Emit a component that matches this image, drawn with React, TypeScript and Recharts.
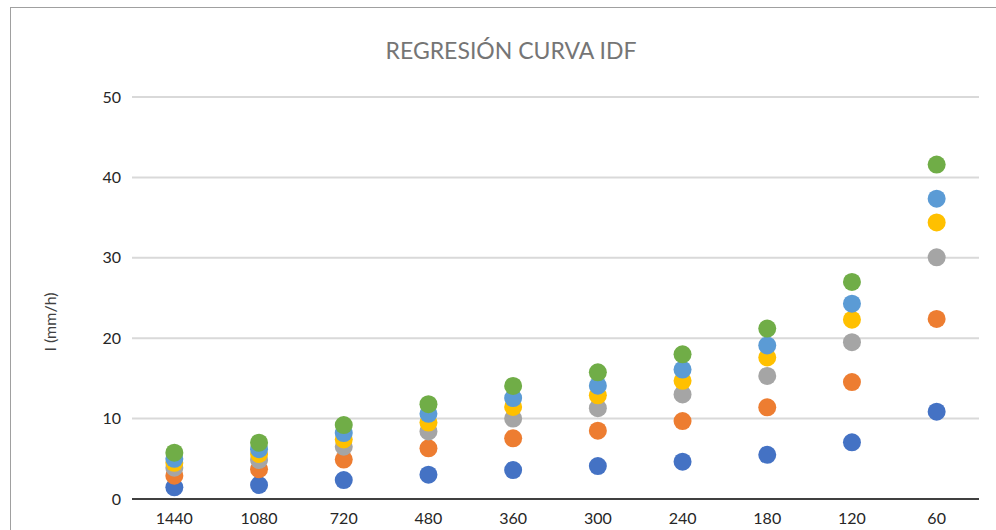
import React from 'react';
import { ComposedChart, Scatter, XAxis, YAxis, CartesianGrid } from 'recharts';

const durations = ['1440', '1080', '720', '480', '360', '300', '240', '180', '120', '60'];

const serie1 = [1.45, 1.74, 2.36, 3.02, 3.6, 4.1, 4.64, 5.5, 7.05, 10.86];
const serie2 = [2.9, 3.7, 4.9, 6.3, 7.55, 8.5, 9.7, 11.4, 14.55, 22.4];
const serie3 = [3.9, 4.85, 6.5, 8.4, 10.0, 11.3, 13.0, 15.3, 19.5, 30.06];
const serie4 = [4.5, 5.6, 7.4, 9.5, 11.45, 12.9, 14.7, 17.6, 22.3, 34.4];
const serie5 = [5.0, 6.2, 8.2, 10.6, 12.55, 14.1, 16.1, 19.1, 24.3, 37.35];
const serie6 = [5.76, 7.0, 9.2, 11.8, 14.07, 15.76, 18.0, 21.2, 27.0, 41.6];

const yTicks = [0, 10, 20, 30, 40, 50];

const SERIES = [
  { key: 's1', values: serie1, color: '#4472C4' },
  { key: 's2', values: serie2, color: '#ED7D31' },
  { key: 's3', values: serie3, color: '#A5A5A5' },
  { key: 's4', values: serie4, color: '#FFC000' },
  { key: 's5', values: serie5, color: '#5B9BD5' },
  { key: 's6', values: serie6, color: '#70AD47' },
];

const data = durations.map((d, i) => {
  const row: Record<string, string | number> = { d };
  SERIES.forEach(s => {
    row[s.key] = s.values[i];
  });
  return row;
});

const FONT = 'Lato, "Open Sans", sans-serif';

const dot = (color: string) => (props: any) => (
  <circle cx={props.cx} cy={props.cy} r={9} fill={color} />
);

export default function App() {
  return (
    <div style={{ position: 'absolute', left: 0, top: 0, width: 996, height: 530, background: '#fff', overflow: 'hidden', fontFamily: FONT }}>
      <div style={{ position: 'absolute', left: 10, top: 7, width: 1000, height: 600, borderTop: '1px solid #a0a0a0', borderLeft: '1px solid #a0a0a0' }} />
      <div style={{ position: 'absolute', left: 311, top: 35, width: 400, textAlign: 'center', fontSize: 23, color: '#757575', lineHeight: '30px' }}>
        REGRESIÓN CURVA IDF
      </div>
      <div style={{ position: 'absolute', left: 50, top: 322, width: 0, height: 0 }}>
        <div style={{ position: 'absolute', left: -60, top: -10, width: 120, height: 20, lineHeight: '20px', textAlign: 'center', fontSize: 16, color: '#404040', transform: 'rotate(-90deg)' }}>
          I (mm/h)
        </div>
      </div>
      <div style={{ position: 'absolute', left: 0, top: 0 }}>
        <ComposedChart width={996} height={530} data={data} margin={{ top: 97, right: 17, bottom: 0, left: 0 }}>
          <CartesianGrid vertical={false} stroke="#d9d9d9" strokeWidth={2} />
          <XAxis
            dataKey="d"
            type="category"
            scale="band"
            height={31}
            tickLine={false}
            tickMargin={8}
            stroke="#404040"
            strokeWidth={2}
            tick={{ fill: '#262626', fontSize: 16, fontFamily: FONT }}
          />
          <YAxis
            width={132}
            domain={[0, 50]}
            ticks={yTicks}
            axisLine={false}
            tickLine={false}
            tickMargin={5}
            tick={{ fill: '#262626', fontSize: 16, fontFamily: FONT }}
          />
          {SERIES.map(s => (
            <Scatter key={s.key} dataKey={s.key} fill={s.color} shape={dot(s.color)} isAnimationActive={false} />
          ))}
        </ComposedChart>
      </div>
    </div>
  );
}
